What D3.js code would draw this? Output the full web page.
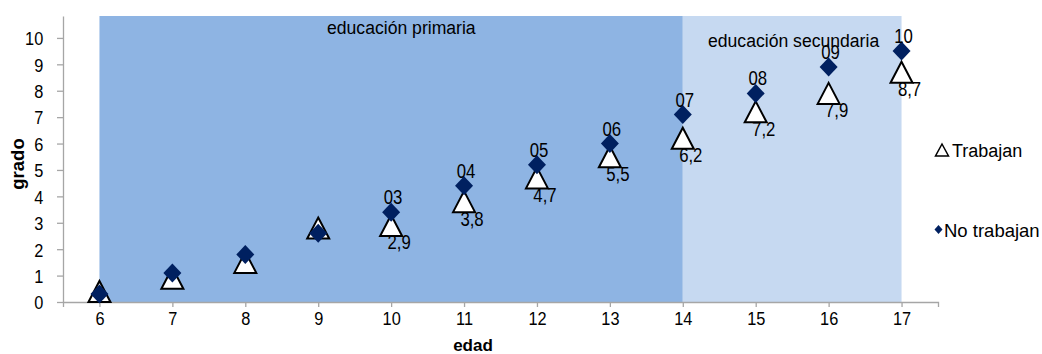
<!DOCTYPE html>
<html>
<head>
<meta charset="utf-8">
<script src="https://cdn.jsdelivr.net/npm/d3@7"></script>
<style>
  body { margin: 0; background: #fff; }
  svg text { font-family: "Liberation Sans", Arial, sans-serif; }
</style>
</head>
<body>
<div id="chart"></div>
<script>
// datos
const edades = [6, 7, 8, 9, 10, 11, 12, 13, 14, 15, 16, 17];
const trabajan = [0.4, 0.9, 1.5, 2.8, 2.9, 3.8, 4.7, 5.5, 6.2, 7.2, 7.9, 8.7];
const noTrabajan = [0.3, 1.1, 1.8, 2.6, 3.4, 4.4, 5.2, 6.0, 7.1, 7.9, 8.9, 9.5];
const etiquetasTrabajan = ["", "", "", "", "2,9", "3,8", "4,7", "5,5", "6,2", "7,2", "7,9", "8,7"];
const etiquetasNoTrabajan = ["", "", "", "", "03", "04", "05", "06", "07", "08", "09", "10"];
const yTicks = [0, 1, 2, 3, 4, 5, 6, 7, 8, 9, 10];
// tramos de educacion
const tramos = [
  { nombre: "educación primaria", desde: 6, hasta: 14 },
  { nombre: "educación secundaria", desde: 14, hasta: 17 }
];
const series = ["Trabajan", "No trabajan"];

const width = 1042, height = 354;
const margin = { top: 16, right: 104, bottom: 52, left: 63 };
const estrecho = 0.86; // letra un poco estrecha como Arial Narrow

const svg = d3.select("#chart").append("svg")
  .attr("width", width)
  .attr("height", height);

const x = d3.scaleLinear().domain([5.5, 17.5]).range([margin.left, width - margin.right]);
const y = d3.scaleLinear().domain([0, 10.83]).range([height - margin.bottom, margin.top]);

// fondos
const coloresTramo = ["#8EB4E3", "#C6D9F1"];
svg.append("g").selectAll("rect")
  .data(tramos)
  .enter()
  .append("rect")
  .attr("x", d => x(d.desde))
  .attr("y", y(10.83))
  .attr("width", d => x(d.hasta) - x(d.desde))
  .attr("height", y(0) - y(10.83))
  .attr("fill", (d, i) => coloresTramo[i]);

// titulos de tramo
svg.append("text")
  .attr("x", 327).attr("y", 34)
  .attr("font-size", 17.6)
  .text(tramos[0].nombre);
svg.append("text")
  .attr("x", 708).attr("y", 47)
  .attr("font-size", 17.6)
  .text(tramos[1].nombre);

// ejes
const ejeX = svg.append("g")
  .attr("transform", "translate(0," + y(0) + ")")
  .call(d3.axisBottom(x).tickValues(edades).tickSize(5).tickSizeOuter(5).tickPadding(5));
const ejeY = svg.append("g")
  .attr("transform", "translate(" + margin.left + ",0)")
  .call(d3.axisLeft(y).tickValues(yTicks).tickSize(6).tickSizeOuter(0).tickPadding(17));

[ejeX, ejeY].forEach(g => {
  g.select(".domain").attr("stroke", "#A6A6A6").attr("stroke-width", 1.3);
  g.selectAll(".tick line").attr("stroke", "#A6A6A6").attr("stroke-width", 1.3);
  g.selectAll(".tick text")
    .attr("font-size", 19)
    .attr("fill", "#000")
    .attr("transform", "scale(" + estrecho + ",1)")
    .style("font-family", '"Liberation Sans", Arial, sans-serif');
});
ejeY.selectAll(".tick text").attr("dy", "0.36em");

svg.append("text")
  .attr("x", 473).attr("y", 351)
  .attr("text-anchor", "middle")
  .attr("font-size", 17).attr("font-weight", "bold")
  .text("edad");
svg.append("text")
  .attr("transform", "translate(24,164) rotate(-90)")
  .attr("text-anchor", "middle")
  .attr("font-size", 18.5).attr("font-weight", "bold")
  .text("grado");

// simbolos
const triangulo = "M0,-10.5L11,10.5L-11,10.5Z";
const rombo = "M0,-9.5L9,0L0,9.5L-9,0Z";

const gTri = svg.append("g");
gTri.selectAll("path")
  .data(edades)
  .enter()
  .append("path")
  .attr("transform", (d, i) => "translate(" + x(d) + "," + y(trabajan[i]) + ")")
  .attr("d", triangulo)
  .attr("fill", "#fff")
  .attr("stroke", "#000")
  .attr("stroke-width", 2);

const gRombo = svg.append("g");
gRombo.selectAll("path")
  .data(edades)
  .enter()
  .append("path")
  .attr("transform", (d, i) => "translate(" + x(d) + "," + y(noTrabajan[i]) + ")")
  .attr("d", rombo)
  .attr("fill", "#002060");

// etiquetas
svg.append("g").selectAll("text")
  .data(edades)
  .enter()
  .append("text")
  .attr("transform", (d, i) => "translate(" + (x(d) + 2) + "," + (y(noTrabajan[i]) - 8) + ") scale(" + estrecho + ",1)")
  .attr("text-anchor", "middle")
  .attr("font-size", 19.5)
  .text((d, i) => etiquetasNoTrabajan[i]);

svg.append("g").selectAll("text")
  .data(edades)
  .enter()
  .append("text")
  .attr("transform", (d, i) => "translate(" + (x(d) + 8) + "," + (y(trabajan[i]) + 24) + ") scale(" + estrecho + ",1)")
  .attr("text-anchor", "middle")
  .attr("font-size", 19.5)
  .text((d, i) => etiquetasTrabajan[i]);

// leyenda
const leyenda = svg.append("g");
leyenda.append("path")
  .attr("d", "M942,144L948.5,156L935.5,156Z")
  .attr("fill", "#fff")
  .attr("stroke", "#000")
  .attr("stroke-width", 1.5);
leyenda.append("text")
  .attr("x", 952).attr("y", 157)
  .attr("font-size", 18)
  .text(series[0]);
leyenda.append("path")
  .attr("d", "M938.5,225L942.5,229.5L938.5,234L934.5,229.5Z")
  .attr("fill", "#002060");
leyenda.append("text")
  .attr("x", 944).attr("y", 237)
  .attr("font-size", 18.5)
  .text(series[1]);
</script>
</body>
</html>
